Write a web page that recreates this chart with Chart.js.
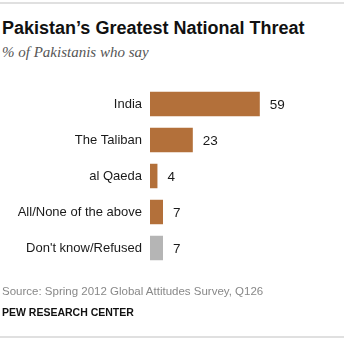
<!DOCTYPE html>
<html>
<head>
<meta charset="utf-8">
<script src="https://cdn.jsdelivr.net/npm/chart.js@4"></script>
<style>
  html, body { margin: 0; padding: 0; background: #fff; }
  #wrap { position: relative; width: 351px; height: 341px; overflow: hidden; }
  .rule { position: absolute; left: 0; width: 344px; height: 2px; background: #e0e0e0; }
  #title { position: absolute; left: 2px; top: 18px; font: bold 18px "Liberation Sans", Arial, sans-serif; color: #111; white-space: nowrap; }
  #subtitle { position: absolute; left: 2px; top: 44px; font: italic 15px "Liberation Serif", Georgia, serif; color: #555; white-space: nowrap; }
  #source { position: absolute; left: 2px; top: 285px; font: 11.5px "Liberation Sans", Arial, sans-serif; color: #888; white-space: nowrap; }
  #credit { position: absolute; left: 2px; top: 306px; font: bold 10.5px "Liberation Sans", Arial, sans-serif; color: #111; white-space: nowrap; }
  canvas { position: absolute; left: 0; top: 0; }
</style>
</head>
<body>
<div id="wrap">
  <div class="rule" style="top:2px"></div>
  <div id="title">Pakistan’s Greatest National Threat</div>
  <div id="subtitle">% of Pakistanis who say</div>
  <canvas id="c" width="351" height="341"></canvas>
  <div id="source">Source: Spring 2012 Global Attitudes Survey, Q126</div>
  <div id="credit">PEW RESEARCH CENTER</div>
  <div class="rule" style="top:336px"></div>
</div>
<script>
const categories = ["India", "The Taliban", "al Qaeda", "All/None of the above", "Don't know/Refused"];
const values = [59, 23, 4, 7, 7];
const barColors = ["#b3703a", "#b3703a", "#b3703a", "#b3703a", "#b5b5b5"];

const valueLabels = {
  id: 'valueLabels',
  afterDatasetsDraw(chart) {
    const ctx = chart.ctx;
    const meta = chart.getDatasetMeta(0);
    ctx.save();
    ctx.font = '13.5px "Liberation Sans", Arial, sans-serif';
    ctx.fillStyle = '#1a1a1a';
    ctx.textAlign = 'left';
    ctx.textBaseline = 'middle';
    meta.data.forEach((bar, i) => {
      ctx.fillText(String(values[i]), bar.x + 10, bar.y + 1);
    });
    ctx.restore();
  }
};

new Chart(document.getElementById('c'), {
  type: 'bar',
  data: {
    labels: categories,
    datasets: [{
      data: values,
      backgroundColor: barColors,
      borderWidth: 0,
      categoryPercentage: 1,
      barPercentage: 0.68
    }]
  },
  options: {
    indexAxis: 'y',
    responsive: false,
    animation: false,
    events: [],
    layout: { padding: { top: 86, bottom: 75, left: 0, right: 0 } },
    plugins: { legend: { display: false }, tooltip: { enabled: false } },
    scales: {
      x: { display: false, min: 0, max: 108 },
      y: {
        grid: { display: false, drawTicks: false },
        border: { display: false },
        ticks: {
          padding: 8,
          color: '#1a1a1a',
          font: { family: '"Liberation Sans", Arial, sans-serif', size: 13 }
        },
        afterFit(scale) { scale.width = 150; }
      }
    }
  },
  plugins: [valueLabels]
});
</script>
</body>
</html>
